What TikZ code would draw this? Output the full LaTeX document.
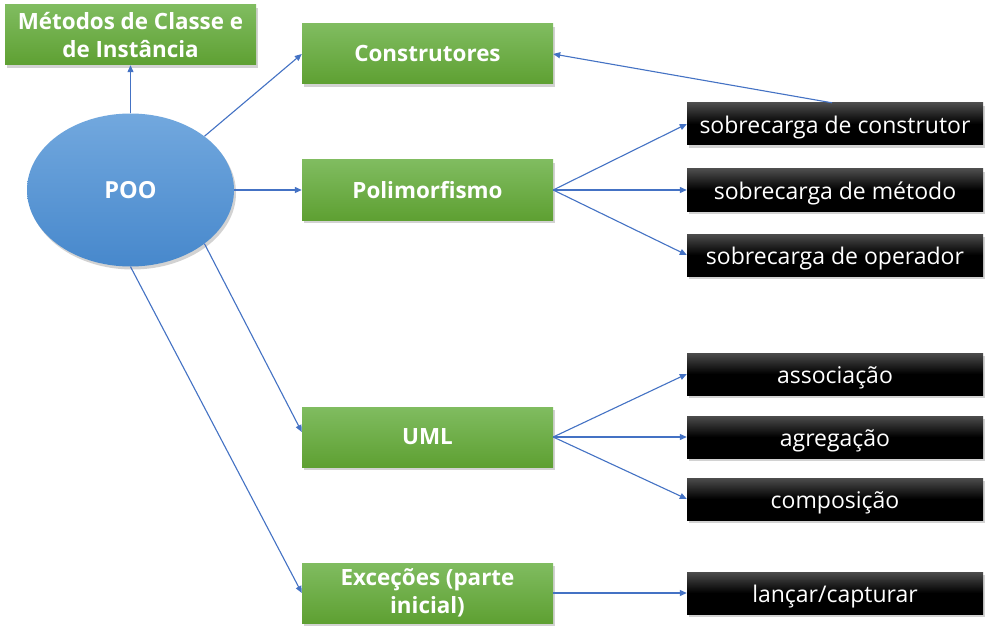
\documentclass[tikz,border=0pt]{standalone}
\usepackage{fontspec}
\setmainfont{Open Sans}
\usetikzlibrary{shadows,arrows.meta,shapes.geometric}
\definecolor{gtop}{HTML}{80BC60}
\definecolor{gbot}{HTML}{5EA032}
\definecolor{btop}{HTML}{72A8DE}
\definecolor{bbot}{HTML}{4788CC}
\definecolor{arr}{HTML}{4472C4}
\tikzset{
  greenbox/.style={rectangle, minimum width=251pt, minimum height=60pt, inner sep=0pt,
    top color=gtop, bottom color=gbot, text=white, align=center,
    font=\bfseries\fontsize{22.4}{28}\selectfont,
    drop shadow={shadow xshift=2pt, shadow yshift=-3pt, opacity=0.35}},
  blackbox/.style={rectangle, minimum width=296pt, minimum height=42pt, inner sep=0pt,
    top color=black!70, bottom color=black, middle color=black, text=white,
    font=\fontsize{23}{27}\selectfont, text height=20pt, text depth=1pt,
    drop shadow={shadow xshift=2pt, shadow yshift=-3pt, opacity=0.35}},
  pooshape/.style={ellipse, minimum width=207pt, minimum height=153pt, inner sep=0pt,
    top color=btop, bottom color=bbot, text=white, font=\bfseries\fontsize{23.5}{26}\selectfont,
    drop shadow={shadow xshift=2pt, shadow yshift=-3pt, opacity=0.35}},
  conn/.style={draw=arr, line width=1.1pt, -{Triangle[length=7pt,width=6pt]}}
}
\begin{document}
\begin{tikzpicture}[x=1pt,y=-1pt]
\useasboundingbox[fill=white] (0,0) rectangle (990,631);
\node[greenbox] (met) at (130.5,35) {Métodos de Classe e\\de Instância};
\node[pooshape] (poo) at (130.5,190) {POO};
\node[greenbox] (cons) at (427.5,54) {Construtores};
\node[greenbox] (poli) at (427.5,190) {Polimorfismo};
\node[greenbox] (uml) at (427.5,437) {UML};
\node[greenbox] (exc) at (427.5,593) {Exceções (parte\\inicial)};
\node[blackbox] (sc) at (835,124) {sobrecarga de construtor};
\node[blackbox] (sm) at (835,190) {sobrecarga de método};
\node[blackbox] (so) at (835,255) {sobrecarga de operador};
\node[blackbox] (as) at (835,374) {associação};
\node[blackbox] (ag) at (835,437) {agregação};
\node[blackbox] (co) at (835,499) {composição};
\node[blackbox] (lc) at (835,593) {lançar/capturar};
\draw[conn] (poo.north) -- (met.south);
\draw[conn] (poo.36) -- (cons.west);
\draw[conn] (poo.east) -- (poli.west);
\draw[conn] (poo.-36) -- ([yshift=5pt]uml.west);
\draw[conn] (poo.south) -- (exc.west);
\draw[conn] (poli.east) -- (sc.west);
\draw[conn] (poli.east) -- (sm.west);
\draw[conn] (poli.east) -- (so.west);
\draw[conn] (uml.east) -- (as.west);
\draw[conn] (uml.east) -- (ag.west);
\draw[conn] (uml.east) -- (co.west);
\draw[conn] (exc.east) -- (lc.west);
\draw[conn] ([xshift=-3pt]sc.north) -- (cons.east);
\end{tikzpicture}
\end{document}
